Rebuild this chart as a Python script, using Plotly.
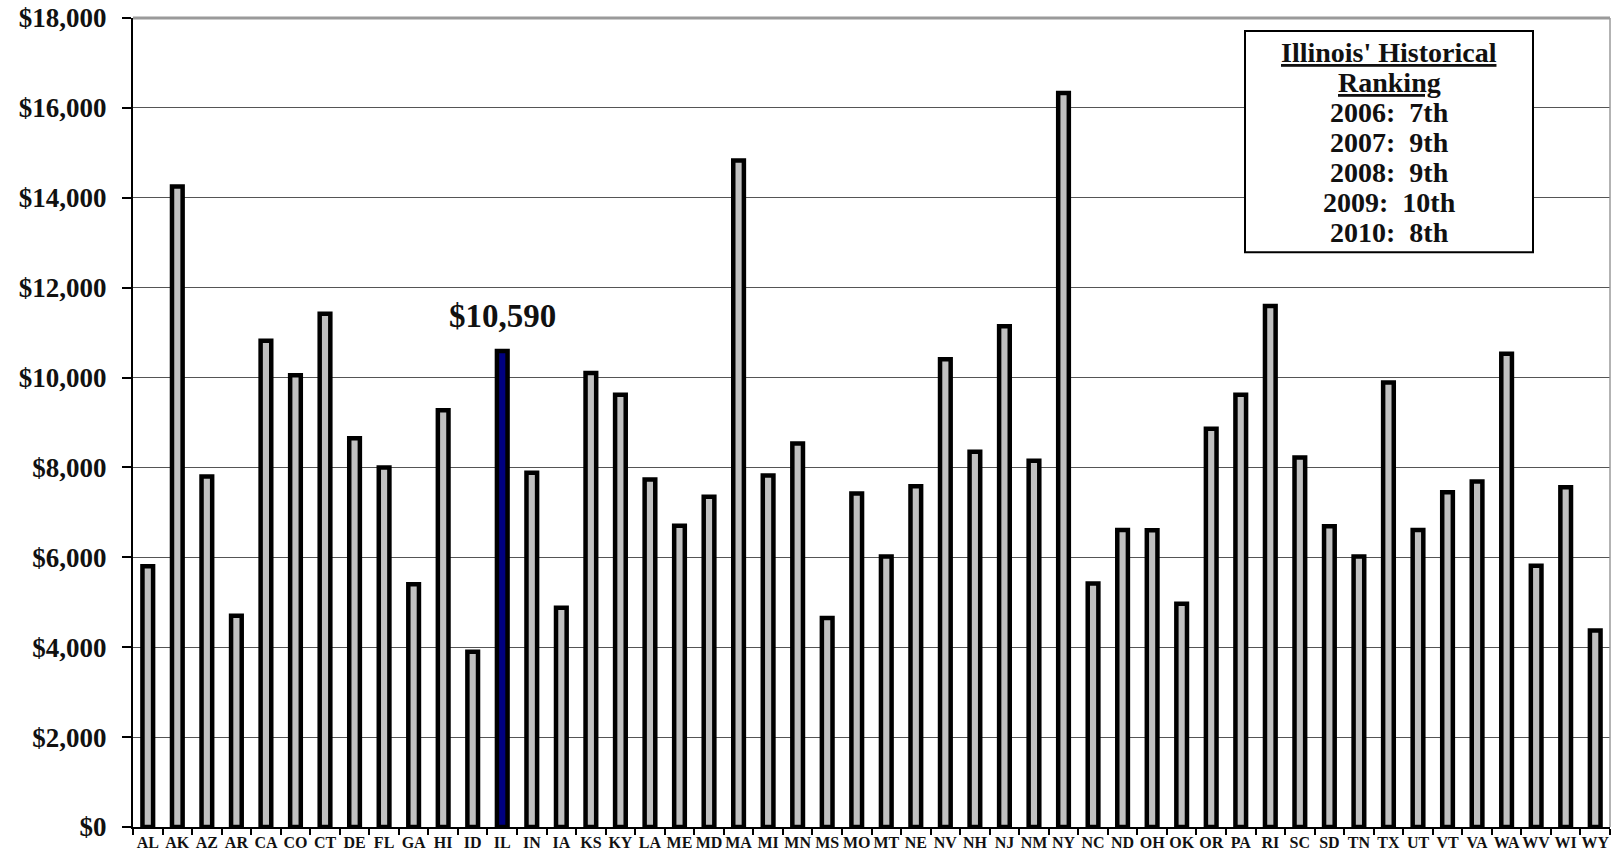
import plotly.graph_objects as go

states = ["AL", "AK", "AZ", "AR", "CA", "CO", "CT", "DE", "FL", "GA",
          "HI", "ID", "IL", "IN", "IA", "KS", "KY", "LA", "ME", "MD",
          "MA", "MI", "MN", "MS", "MO", "MT", "NE", "NV", "NH", "NJ",
          "NM", "NY", "NC", "ND", "OH", "OK", "OR", "PA", "RI", "SC",
          "SD", "TN", "TX", "UT", "VT", "VA", "WA", "WV", "WI", "WY"]

spending = [5800, 14250, 7800, 4700, 10820, 10050, 11420, 8650, 8000, 5400,
            9270, 3900, 10590, 7880, 4880, 10100, 9620, 7730, 6700, 7350,
            14830, 7820, 8530, 4650, 7420, 6020, 7580, 10410, 8350, 11140,
            8150, 16330, 5420, 6610, 6600, 4970, 8860, 9620, 11590, 8220,
            6690, 6020, 9890, 6610, 7450, 7690, 10530, 5810, 7560, 4370]

y_ticks = list(range(0, 18001, 2000))
y_tick_text = ["${:,}".format(v) for v in y_ticks]

highlight = "IL"
ranking_title = ["Illinois' Historical", "Ranking"]
ranking_lines = ["2006:  7th", "2007:  9th", "2008:  9th", "2009:  10th", "2010:  8th"]

FONT = "Liberation Serif"
INK = "#111111"

# figure geometry (pixels) used to place the ranking box in paper coordinates
W, H = 1613, 856
M_L, M_R, M_T, M_B = 133, 3, 15, 29
PW, PH = W - M_L - M_R, H - M_T - M_B


def px_x(px):
    return (px - M_L) / PW


def px_y(py):
    return 1 - (py - M_T) / PH


fill = ["#000080" if s == highlight else "#c0c0c0" for s in states]

fig = go.Figure()
fig.add_trace(go.Bar(
    x=states,
    y=spending,
    width=0.36,
    marker=dict(color=fill, line=dict(color="black", width=4.5)),
    hoverinfo="x+y",
))

hl_idx = states.index(highlight)
fig.add_annotation(
    x=states[hl_idx], y=spending[hl_idx],
    text="<b>${:,}</b>".format(spending[hl_idx]),
    showarrow=False, yanchor="bottom", yshift=15,
    font=dict(family=FONT, size=33, color=INK),
)

# ranking box
box_l, box_r, box_t, box_b = 1245, 1533, 28, 250
fig.add_shape(type="rect", xref="paper", yref="paper",
              x0=px_x(box_l), x1=px_x(box_r), y0=px_y(box_b), y1=px_y(box_t),
              line=dict(color="black", width=2), fillcolor="white", layer="above")
box_cx = px_x((box_l + box_r) / 2)
box_lines = (["<b><u>" + t + "</u></b>" for t in ranking_title]
             + ["<b>" + t + "</b>" for t in ranking_lines])
for i, txt in enumerate(box_lines):
    fig.add_annotation(
        xref="paper", yref="paper", x=box_cx, y=px_y(50 + 30 * i),
        xanchor="center", yanchor="middle", text=txt, showarrow=False,
        font=dict(family=FONT, size=28, color=INK),
    )

# gray frame on top and right edges of the plot area
fig.add_shape(type="line", xref="paper", yref="paper", x0=0, x1=1, y0=1, y1=1,
              line=dict(color="#9a9a9a", width=3))
fig.add_shape(type="line", xref="paper", yref="paper", x0=1, x1=1, y0=0, y1=1,
              line=dict(color="#9a9a9a", width=1.5))

fig.update_layout(
    width=W, height=H,
    margin=dict(l=M_L, r=M_R, t=M_T, b=M_B),
    paper_bgcolor="white", plot_bgcolor="white",
    showlegend=False,
    xaxis=dict(
        type="category", tickson="boundaries", tickangle=0,
        ticks="outside", ticklen=6, tickcolor="black", tickwidth=1.5,
        showline=True, linecolor="black", linewidth=2,
        showgrid=False, range=[-0.5, 49.5],
        tickfont=dict(family=FONT, size=16, color=INK),
        tickprefix="<b>", ticksuffix="</b>",
    ),
    yaxis=dict(
        range=[0, 18000], tickvals=y_ticks, ticktext=["<b>" + t + "</b>" for t in y_tick_text],
        ticks="outside", ticklen=9, tickcolor="black", tickwidth=1.5,
        ticklabelstandoff=10,
        showline=True, linecolor="black", linewidth=2,
        showgrid=True, gridcolor="#555555", gridwidth=1.2,
        zeroline=False,
        tickfont=dict(family=FONT, size=27, color=INK),
    ),
)

fig.write_html("out.html")
